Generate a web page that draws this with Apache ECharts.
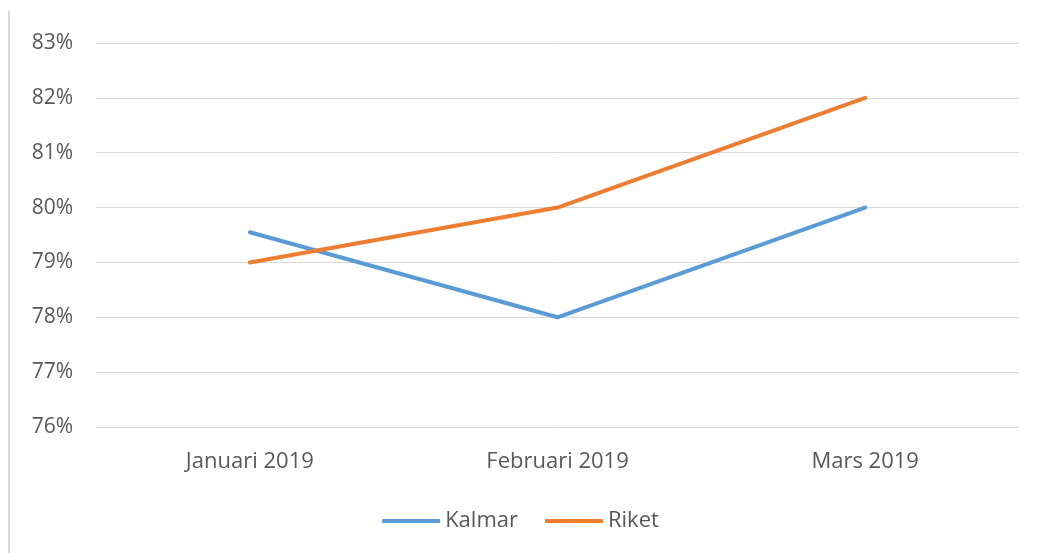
<!DOCTYPE html>
<html>
<head>
<meta charset="utf-8">
<script src="https://cdn.jsdelivr.net/npm/echarts@6/dist/echarts.min.js"></script>
<style>
  html, body { margin: 0; padding: 0; background: #fff; }
  #main { width: 1041px; height: 553px; }
</style>
</head>
<body>
<div id="main"></div>
<script>
// data
var months = ['Januari 2019', 'Februari 2019', 'Mars 2019'];
var kalmar = [79.55, 78, 80];
var riket = [79, 80, 82];

var chart = echarts.init(document.getElementById('main'));

var option = {
  backgroundColor: '#ffffff',
  color: ['#5B9BD5', '#ED7D31'],
  textStyle: { fontFamily: 'Open Sans' },
  animation: false,
  graphic: [{
    // grey frame line at the left edge
    type: 'rect',
    shape: { x: 8, y: 11, width: 2, height: 542 },
    style: { fill: '#d9d9d9' }
  }],
  grid: { left: 96, right: 22, top: 43, bottom: 126 },
  legend: {
    top: 505,
    left: 'center',
    itemWidth: 58,
    itemHeight: 4,
    itemGap: 27,
    icon: 'roundRect',
    textStyle: { color: '#595959', fontSize: 22 },
    data: ['Kalmar', 'Riket']
  },
  xAxis: {
    type: 'category',
    data: months,
    boundaryGap: true,
    axisLine: { show: false },
    axisTick: { show: false },
    axisLabel: { color: '#595959', fontSize: 22, margin: 24 }
  },
  yAxis: {
    type: 'value',
    min: 76,
    max: 83,
    interval: 1,
    axisLine: { show: false },
    axisTick: { show: false },
    axisLabel: { color: '#595959', fontSize: 21, margin: 23, formatter: '{value}%' },
    splitLine: { lineStyle: { color: '#d9d9d9', width: 1 } }
  },
  series: [{
    name: 'Kalmar',
    type: 'line',
    data: kalmar,
    symbol: 'none',
    lineStyle: { width: 4, cap: 'round' }
  }, {
    name: 'Riket',
    type: 'line',
    data: riket,
    symbol: 'none',
    lineStyle: { width: 4, cap: 'round' }
  }]
};

chart.setOption(option);
</script>
</body>
</html>
